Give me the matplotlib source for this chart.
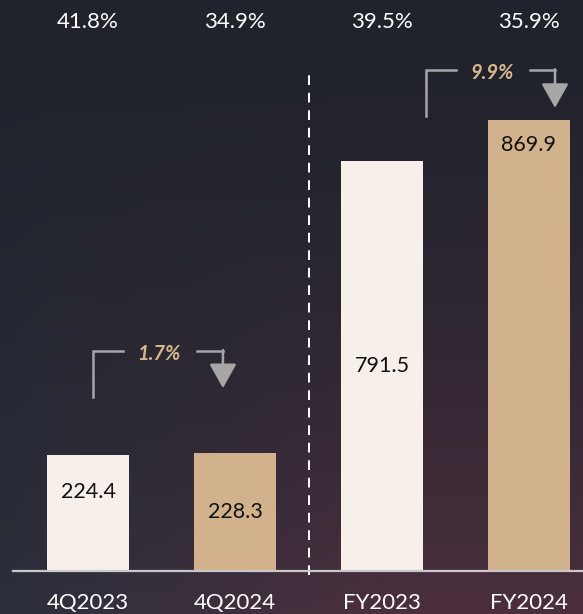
import numpy as np
import matplotlib.pyplot as plt

categories = ["4Q2023", "4Q2024", "FY2023", "FY2024"]
values = [224.4, 228.3, 791.5, 869.9]
margins = ["41.8%", "34.9%", "39.5%", "35.9%"]
growth = ["1.7%", "9.9%"]

bar_colors = ["#F7F0EA", "#D2B28C", "#F7F0EA", "#D2B28C"]
label_frac = [0.68, 0.5, 0.5, 0.945]   # where the value sits inside each bar

plt.rcParams["font.family"] = ["Lato", "DejaVu Sans"]

W, H = 583, 614
fig = plt.figure(figsize=(W / 100, H / 100), dpi=100)

# background gradient
bg = fig.add_axes([0, 0, 1, 1])
yy, xx = np.mgrid[0:1:200j, 0:1:200j]
top = np.array([0x20, 0x23, 0x2c]) / 255
bl = np.array([0x2c, 0x30, 0x3c]) / 255
br = np.array([0x4c, 0x2f, 0x3e]) / 255
t = yy[..., None] ** 1.6
bottom = bl + (br - bl) * np.clip(xx[..., None] * 1.5, 0, 1)
img = top + (bottom - top) * t
bg.imshow(img, aspect="auto", extent=[0, 1, 0, 1], origin="upper")
bg.axis("off")

# main axes: baseline at pixel 571, bar centres at 88 + 147*i
base_px = 571
px_per_unit = 0.518
ax = fig.add_axes([0, (H - base_px) / H, 1, base_px / H])
ax.set_xlim(-88 / 147, (W - 88) / 147)
ax.set_ylim(0, base_px / px_per_unit)
ax.axis("off")

x = np.arange(len(categories))
ax.bar(x, values, width=0.558, color=bar_colors, zorder=3)

for xi, v, f in zip(x, values, label_frac):
    ax.text(xi, v * f, f"{v:.1f}", ha="center", va="center",
            fontsize=15.5, color="#111111", zorder=4)

# margin row on top, category names under the baseline
for xi, m, c in zip(x, margins, categories):
    ax.text(xi, (base_px - 22) / px_per_unit, m, ha="center", va="center",
            fontsize=16, color="white", clip_on=False)
    ax.text(xi, (base_px - 603) / px_per_unit, c, ha="center", va="center",
            fontsize=16, color="white", clip_on=False)

ax.plot([-0.51, 4], [0, 0], color="#c8c8c8", lw=1.6, clip_on=False, zorder=4)
ax.plot([1.5, 1.5], [-8, 957], color="white", lw=1.4, ls=(0, (5, 4)),
        clip_on=False, zorder=2)

# growth brackets
gray = "#a6a6a6"
tan = "#D8B68C"
brackets = [
    # left x, left seg end, text x, right seg start, right x, bottom, top, tip
    (0.034, 0.238, 0.48, 0.741, 0.918, 336, 425, 353),
    (2.30, 2.50, 2.75, 3.007, 3.177, 878, 967, 894),
]
for g, (x0, x1, xt, x2, x3, yb, yt, tip) in zip(growth, brackets):
    ax.plot([x0, x0, x1], [yb, yt, yt], color=gray, lw=1.8, solid_joinstyle="miter")
    ax.plot([x2, x3], [yt, yt], color=gray, lw=1.8)
    ax.annotate("", xy=(x3, tip), xytext=(x3, yt + 1.5),
                arrowprops=dict(arrowstyle="-|>,head_length=0.75,head_width=0.42",
                                color=gray, lw=1.8, shrinkA=0, shrinkB=0,
                                mutation_scale=20))
    ax.text(xt, yt - 6, g, ha="center", va="center", fontsize=14.5,
            fontweight="bold", fontstyle="italic", color=tan)

fig.savefig("out.png", dpi=100)
